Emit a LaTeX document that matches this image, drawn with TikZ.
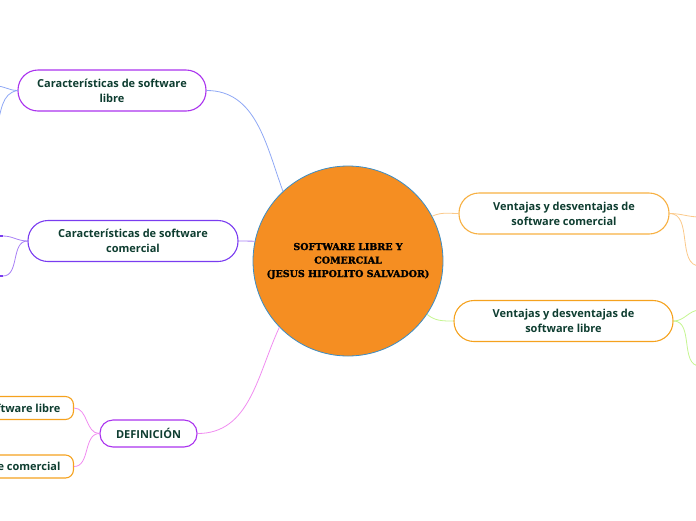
\documentclass[tikz,border=0pt]{standalone}
\usepackage{fontspec}
\IfFontExistsTF{Open Sans Bold}
  {\newfontfamily\nodefont{Open Sans Bold}}
  {\IfFontExistsTF{Liberation Sans Bold}
    {\newfontfamily\nodefont{Liberation Sans Bold}}
    {\newfontfamily\nodefont{Noto Sans}[FakeBold=1.8]}}
\IfFontExistsTF{DejaVu Serif Bold}
  {\newfontfamily\hubfont{DejaVu Serif Bold}[FakeBold=1.5]}
  {\IfFontExistsTF{Liberation Serif Bold}
    {\newfontfamily\hubfont{Liberation Serif Bold}[FakeBold=1.5]}
    {\newfontfamily\hubfont{DejaVu Serif}[FakeBold=4]}}
\usetikzlibrary{positioning}

\definecolor{txtgreen}{HTML}{0E3D30}
\definecolor{hubfill}{HTML}{F58E22}
\definecolor{hubline}{HTML}{3C8DC5}
\definecolor{purpA}{HTML}{AA33EE}
\definecolor{purpB}{HTML}{7A3CF0}
\definecolor{orngA}{HTML}{F5A21E}
\definecolor{orngB}{HTML}{F7B042}
\definecolor{lnblue}{HTML}{8FA8F5}
\definecolor{lnpurp}{HTML}{A880F5}
\definecolor{lnpink}{HTML}{F08CF0}
\definecolor{lnorng}{HTML}{FBC98A}
\definecolor{lngreen}{HTML}{C4F590}

\begin{document}
\begin{tikzpicture}[
  x=1pt, y={(0pt,-1pt)},
  font=\nodefont\fontsize{11}{15}\selectfont,
  topic/.style={draw, line width=1.1pt, rounded corners=20pt, align=center,
                text=txtgreen, minimum height=41pt, inner sep=2pt},
  leaf/.style={draw=orngA, line width=1.1pt, rounded corners=8pt,
               text=txtgreen, minimum height=23pt, inner xsep=13pt,
               inner ysep=2pt, anchor=east},
  link/.style={line width=0.8pt},
]
\useasboundingbox (0,0) rectangle (696,520);
\clip (0,0) rectangle (696,520);

\node[circle, fill=hubfill, draw=hubline, line width=0.8pt, minimum size=190pt,
      align=center, font=\hubfont\fontsize{9.5}{13.5}\selectfont]
  (hub) at (348,261) {SOFTWARE LIBRE Y\\COMERCIAL\\(JESUS HIPOLITO SALVADOR)};

\node[topic, draw=purpA, minimum width=188pt] (lib) at (112,90.5)
  {Características de software\\libre};
\node[topic, draw=purpB, minimum width=210pt] (com) at (133,241)
  {Características de software\\comercial};
\node[topic, draw=purpA, minimum width=97pt, minimum height=27pt,
      rounded corners=13pt] (def) at (148.5,433.5) {DEFINICIÓN};
\node[topic, draw=orngB, minimum width=210pt] (vsc) at (564,213.5)
  {Ventajas y desventajas de\\software comercial};
\node[topic, draw=orngA, minimum width=219pt] (vsl) at (563.5,321)
  {Ventajas y desventajas de\\software libre};

\node[leaf] (dlib) at (74,408) {software libre};
\node[leaf] (dcom) at (74,466.5) {software comercial};

\coordinate (lib1) at (-4,86);
\coordinate (lib2) at (-4,128);
\coordinate (com1) at (3,236);
\coordinate (com2) at (3,276);
\coordinate (vsc1) at (700,217);
\coordinate (vsc2) at (700,266);
\coordinate (vsl1) at (700,310);
\coordinate (vsl2) at (700,366);

% main branches
\draw[link, lnblue] (lib.east) to[out=0, in=110] (hub.133);
\draw[link, lnpurp] (com.east) -- (hub.168);
\draw[link, lnpink] (def.east) to[out=0, in=245] (hub.224);
\draw[link, lnorng] (vsc.west) to[out=180, in=25] (hub.28);
\draw[link, lngreen] (vsl.west) to[out=180, in=320] (hub.326);

% sub branches
\draw[link, lnblue] (lib.west) to[out=180, in=0] (lib1);
\draw[link, lnblue] (lib.west) to[out=190, in=70] (lib2);
\draw[link, lnpurp] (com.west) to[out=180, in=0] (com1);
\draw[link, lnpurp] (com.west) to[out=180, in=0] (com2);
\draw[line width=1.3pt, purpB] (com1) -- ++(-5,0);
\draw[line width=1.3pt, purpB] (com2) -- ++(-5,0);
\draw[link, lnpink] (def.west) to[out=180, in=0] (dlib.east);
\draw[link, lnpink] (def.west) to[out=180, in=0] (dcom.east);
\draw[link, lnorng] (vsc.east) to[out=0, in=180] (vsc1);
\draw[link, lnorng] (vsc.east) to[out=0, in=180] (vsc2);
\draw[link, lngreen] (vsl.east) to[out=0, in=180] (vsl1);
\draw[link, lngreen] (vsl.east) to[out=0, in=180] (vsl2);
\end{tikzpicture}
\end{document}
